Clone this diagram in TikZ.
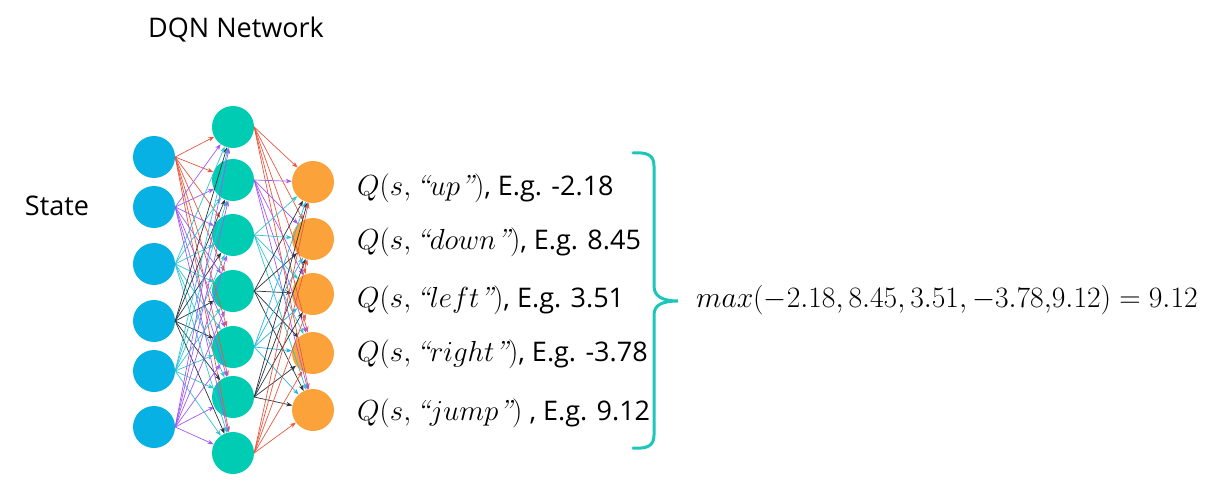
\RequirePackage{fix-cm}
\documentclass[tikz,border=0pt]{standalone}
\usepackage{fontspec}
\newfontfamily\osans{Open Sans}
\usetikzlibrary{arrows.meta}
\definecolor{inBlue}{HTML}{08B1E3}
\definecolor{hidTeal}{HTML}{00CCB4}
\definecolor{outOrange}{HTML}{FBA33A}
\definecolor{braceCol}{HTML}{1CC7BA}
\definecolor{eRed}{HTML}{E8573F}
\definecolor{ePurple}{HTML}{A259F0}
\definecolor{eCyan}{HTML}{2EC4D2}
\definecolor{eBlue}{HTML}{27B5E3}
\definecolor{eDark}{HTML}{2B3440}
\newcommand{\egtext}[1]{{\osans\fontsize{27}{32}\selectfont #1}}
\begin{document}
\begin{tikzpicture}[x=1pt,y=-1pt,
  neuron/.style={circle,minimum size=42pt,inner sep=0pt,draw=none},
  inn/.style={neuron,fill=inBlue},
  hid/.style={neuron,fill=hidTeal},
  outn/.style={neuron,fill=outOrange},
  edge/.style={line width=0.7pt,-{Stealth[length=6pt,width=4.5pt]}},
  lbl/.style={anchor=base west,inner sep=0pt,font=\fontsize{29}{34}\selectfont},
  title/.style={inner sep=0pt,font=\osans\fontsize{27}{32}\selectfont},
  bracestyle/.style={draw=braceCol,line width=3pt,line cap=round}]
\useasboundingbox (0,0) rectangle (1209,500);
% input layer
\foreach \i/\y in {1/157,2/207,3/264,4/321,5/371,6/427}
  \node[inn] (i\i) at (154,\y) {};
% hidden layer
\foreach \j/\y in {1/127,2/180,3/235,4/291,5/347,6/397,7/453}
  \node[hid] (h\j) at (233,\y) {};
% output layer
\foreach \k/\y in {1/182,2/239,3/294,4/353,5/410}
  \node[outn] (o\k) at (313,\y) {};
% edges input -> hidden
\foreach \i/\c in {1/eRed,2/ePurple,3/eCyan,4/eDark,5/eCyan,6/ePurple}
  \foreach \j in {1,...,7}
    \draw[edge,\c] (i\i.east) -- (h\j);
% edges hidden -> output
\foreach \j/\c in {1/eRed,2/ePurple,3/eCyan,4/eDark,5/eBlue,6/eDark,7/eRed}
  \foreach \k in {1,...,5}
    \draw[edge,\c] (h\j.east) -- (o\k);
% titles
\node[title] (dqn) at (236,30) {DQN Network};
\node[title] (state) at (57,206) {State};
% Q labels
\node[lbl] (q1) at (357,195) {$Q(s, \textit{“}up\textit{”})$\egtext{, E.g. -2.18}};
\node[lbl] (q2) at (357,249) {$Q(s, \textit{“}down\textit{”})$\egtext{, E.g. 8.45}};
\node[lbl] (q3) at (357,307) {$Q(s, \textit{“}left\textit{”})$\egtext{, E.g. 3.51}};
\node[lbl] (q4) at (357,361) {$Q(s, \textit{“}right\textit{”})$\egtext{, E.g. -3.78}};
\node[lbl] (q5) at (357,420) {$Q(s, \textit{“}jump\textit{”})$\egtext{\ , E.g. 9.12}};
% brace
\draw[bracestyle] (633,153) .. controls (647,152) and (654,155) .. (654,166)
  -- (654,286) .. controls (654,296) and (662,301) .. (678,301)
  .. controls (662,301) and (654,305) .. (654,315)
  -- (654,435) .. controls (654,446) and (647,449) .. (633,448);
\node[lbl,font=\fontsize{29.6}{36}\selectfont] (maxv) at (696,307) {$max(-2.18,8.45,3.51,-3.78{,}9.12)=9.12$};
\end{tikzpicture}
\end{document}
